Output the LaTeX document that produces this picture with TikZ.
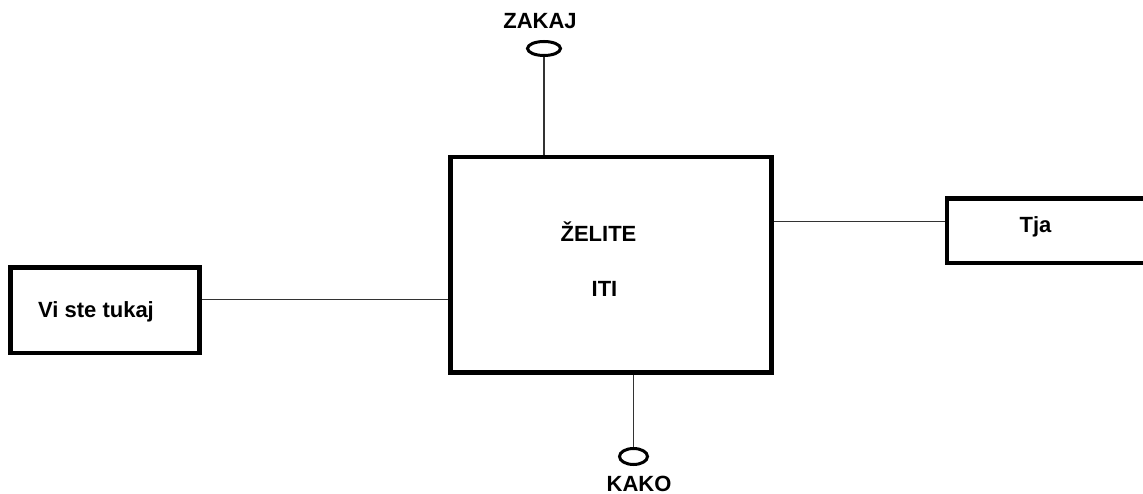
\documentclass[tikz,border=0pt]{standalone}
\usepackage{fontspec}
\setmainfont{Liberation Sans}
\usetikzlibrary{positioning,shapes.geometric}
\tikzset{
  bx/.style={draw=black, line width=4.5pt, rectangle, inner sep=0pt},
  oval/.style={draw=black, line width=3pt, ellipse, inner sep=0pt},
  lnk/.style={black!80, line width=1.3pt},
  lbl/.style={font=\fontsize{22}{26}\selectfont\bfseries, inner sep=0pt, anchor=base},
}
\begin{document}
\begin{tikzpicture}[x=1pt,y=-1pt]
\clip (0,0) rectangle (1143,494);
\fill[white] (0,0) rectangle (1143,494);
% boxes
\node[bx, minimum width=321pt, minimum height=215.5pt] (main) at (611,264.75) {};
\node[bx, minimum width=189pt, minimum height=85.5pt] (vi) at (105,310.25) {};
\node[bx, minimum width=230pt, minimum height=64.5pt] (tja) at (1062,230.75) {};
\node[oval, minimum width=33pt, minimum height=14pt] (zel) at (544,48.5) {};
\node[oval, minimum width=28pt, minimum height=16pt] (kel) at (633.5,456.5) {};
% texts
\node[lbl] (zelite) at (598.5,242) {ŽELITE};
\node[lbl] (iti) at (604.5,297) {ITI};
\node[lbl] (vitxt) at (96,317) {Vi ste tukaj};
\node[lbl] (tjatxt) at (1035.5,233) {Tja};
\node[lbl] (zakaj) at (540,29) {ZAKAJ};
\node[lbl] (kako) at (639,491) {KAKO};
% connectors
\coordinate (vp) at ([yshift=11pt]vi.east);
\coordinate (tp) at ([yshift=9pt]tja.west);
\draw[lnk] (zel.south) -- (zel.south |- main.north);
\draw[lnk] (kel.north) -- (kel.north |- main.south);
\draw[lnk] (vp) -- (vp -| main.west);
\draw[lnk] (tp) -- (tp -| main.east);
\end{tikzpicture}
\end{document}
